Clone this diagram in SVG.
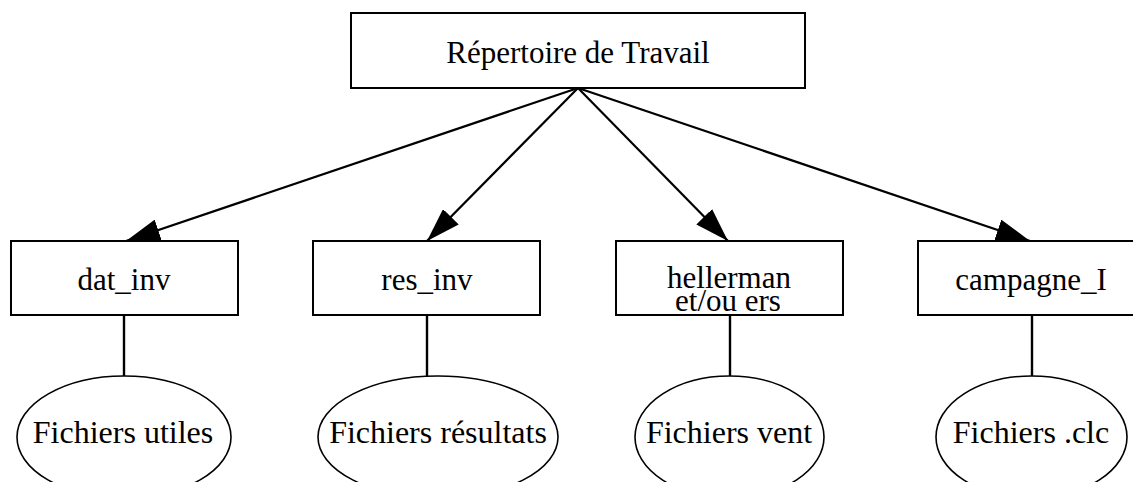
<svg xmlns="http://www.w3.org/2000/svg" width="1133" height="482" viewBox="0 0 1133 482">
<style>
.box{fill:#fff;stroke:#000;stroke-width:2}
.ell{fill:#fff;stroke:#000;stroke-width:1.6}
.t{font-family:"Liberation Serif","Times New Roman",serif;font-size:31px;fill:#000;text-anchor:middle}
.te{font-family:"Liberation Serif","Times New Roman",serif;font-size:32px;fill:#000;text-anchor:middle}
.arr{stroke:#000;stroke-width:2.2;fill:none;marker-end:url(#ah)}
.ln{stroke:#000;stroke-width:2.4;fill:none}
</style>
<defs>
<marker id="ah" viewBox="0 0 34 22" refX="34" refY="11" markerWidth="34" markerHeight="22" markerUnits="userSpaceOnUse" orient="auto">
<path d="M0,0 L34,11 L0,22 z" fill="#000"/>
</marker>
</defs>
<rect width="1133" height="482" fill="#fff"/>
<g id="connectors">
<line class="arr" x1="578" y1="88" x2="126" y2="241"/>
<line class="arr" x1="578" y1="88" x2="427" y2="241"/>
<line class="arr" x1="578" y1="88" x2="728" y2="241"/>
<line class="arr" x1="578" y1="88" x2="1030" y2="241"/>
<line class="ln" x1="124" y1="315" x2="124" y2="376"/>
<line class="ln" x1="427" y1="315" x2="427" y2="377"/>
<line class="ln" x1="730" y1="315" x2="730" y2="376"/>
<line class="ln" x1="1032" y1="315" x2="1032" y2="376"/>
</g>
<g id="root">
<rect class="box" x="351" y="13" width="454" height="75"/>
<text class="t" x="578" y="63">Répertoire de Travail</text>
</g>
<g id="dat_inv">
<rect class="box" x="11" y="241" width="227" height="74"/>
<text class="t" x="124" y="290">dat_inv</text>
</g>
<g id="res_inv">
<rect class="box" x="313" y="241" width="227" height="74"/>
<text class="t" x="427" y="290">res_inv</text>
</g>
<g id="hellerman">
<rect class="box" x="616" y="241" width="227" height="74"/>
<text class="t" x="729" y="288">hellerman</text>
<text class="t" x="728" y="311">et/ou ers</text>
</g>
<g id="campagne_I">
<rect class="box" x="918" y="241" width="227" height="74"/>
<text class="t" x="1031" y="290">campagne_I</text>
</g>
<g id="fichiers_utiles">
<ellipse class="ell" cx="124" cy="437" rx="107" ry="61"/>
<text class="te" x="123" y="443">Fichiers utiles</text>
</g>
<g id="fichiers_resultats">
<ellipse class="ell" cx="438" cy="437" rx="120" ry="61"/>
<text class="te" x="438" y="443">Fichiers résultats</text>
</g>
<g id="fichiers_vent">
<ellipse class="ell" cx="729.5" cy="437" rx="94.5" ry="61"/>
<text class="te" x="729" y="443">Fichiers vent</text>
</g>
<g id="fichiers_clc">
<ellipse class="ell" cx="1031.5" cy="437" rx="95.5" ry="61"/>
<text class="te" x="1031" y="443">Fichiers .clc</text>
</g>
</svg>
